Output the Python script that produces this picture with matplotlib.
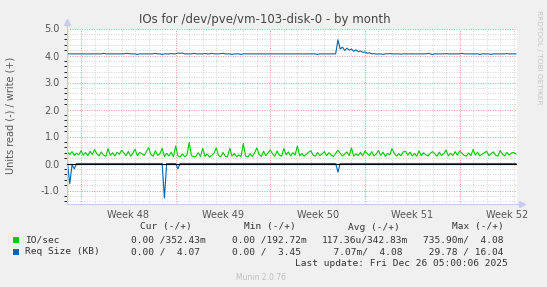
import numpy as np
import matplotlib.pyplot as plt
from matplotlib.ticker import MultipleLocator, FixedLocator
from matplotlib.patches import Rectangle

# one sample every 4 hours, day 0 = Monday Nov 24 (start of week 48)
step_hours = 4
start_day = -1.0

# IO/sec, write (+)
io_write = [
    0.42, 0.33, 0.44, 0.30, 0.38, 0.32,
    0.47, 0.31, 0.41, 0.29, 0.45, 0.33,
    0.52, 0.36, 0.28, 0.43, 0.31, 0.27,
    0.55, 0.30, 0.40, 0.28, 0.42, 0.34,
    0.49, 0.39, 0.29, 0.45, 0.27, 0.38,
    0.53, 0.28, 0.41, 0.36, 0.30, 0.44,
    0.59, 0.33, 0.27, 0.47, 0.30, 0.37,
    0.56, 0.26, 0.38, 0.28, 0.42, 0.25,
    0.65, 0.28, 0.24, 0.36, 0.25, 0.31,
    0.78, 0.29, 0.25, 0.27, 0.40, 0.26,
    0.56, 0.26, 0.35, 0.24, 0.30, 0.38,
    0.58, 0.29, 0.25, 0.41, 0.27, 0.24,
    0.57, 0.27, 0.37, 0.25, 0.32, 0.25,
    0.74, 0.28, 0.24, 0.36, 0.26, 0.39,
    0.58, 0.34, 0.26, 0.45, 0.29, 0.40,
    0.50, 0.36, 0.27, 0.46, 0.31, 0.27,
    0.55, 0.32, 0.43, 0.28, 0.40, 0.31,
    0.65, 0.28, 0.37, 0.27, 0.35, 0.42,
    0.47, 0.31, 0.27, 0.41, 0.29, 0.36,
    0.44, 0.29, 0.40, 0.32, 0.26, 0.38,
    0.49, 0.38, 0.28, 0.35, 0.43, 0.29,
    0.58, 0.27, 0.36, 0.29, 0.41, 0.28,
    0.46, 0.37, 0.29, 0.44, 0.28, 0.35,
    0.48, 0.30, 0.42, 0.27, 0.37, 0.32,
    0.55, 0.38, 0.28, 0.36, 0.29, 0.43,
    0.45, 0.31, 0.42, 0.28, 0.37, 0.27,
    0.47, 0.29, 0.40, 0.32, 0.28, 0.38,
    0.44, 0.36, 0.27, 0.42, 0.30, 0.37,
    0.50, 0.28, 0.38, 0.29, 0.44, 0.31,
    0.46, 0.38, 0.30, 0.27, 0.39, 0.29,
    0.52, 0.31, 0.42, 0.28, 0.35, 0.40,
    0.45, 0.29, 0.37, 0.43, 0.30, 0.27,
    0.48, 0.35, 0.28, 0.41, 0.31, 0.39,
    0.41, 0.35,
]

# Req Size (KB), write (+)
req_write = [
    4.06, 4.06, 4.06, 4.06, 4.06, 4.06,
    4.06, 4.06, 4.06, 4.06, 4.06, 4.06,
    4.06, 4.06, 4.06, 4.06, 4.08, 4.06,
    4.06, 4.06, 4.06, 4.06, 4.06, 4.06,
    4.06, 4.06, 4.08, 4.07, 4.06, 4.06,
    4.06, 4.04, 4.06, 4.06, 4.06, 4.06,
    4.06, 4.06, 4.06, 4.08, 4.06, 4.06,
    4.04, 4.06, 4.06, 4.06, 4.07, 4.06,
    4.06, 4.09, 4.08, 4.09, 4.06, 4.06,
    4.06, 4.06, 4.08, 4.06, 4.06, 4.06,
    4.06, 4.07, 4.06, 4.06, 4.08, 4.06,
    4.06, 4.06, 4.07, 4.08, 4.06, 4.06,
    4.06, 4.04, 4.06, 4.06, 4.06, 4.04,
    4.06, 4.06, 4.06, 4.06, 4.06, 4.06,
    4.06, 4.06, 4.06, 4.06, 4.06, 4.06,
    4.06, 4.06, 4.06, 4.06, 4.06, 4.06,
    4.06, 4.06, 4.06, 4.06, 4.06, 4.06,
    4.06, 4.06, 4.06, 4.06, 4.06, 4.06,
    4.06, 4.06, 4.06, 4.04, 4.06, 4.06,
    4.06, 4.06, 4.06, 4.06, 4.06, 4.06,
    4.58, 4.24, 4.31, 4.19, 4.27, 4.20,
    4.24, 4.16, 4.21, 4.14, 4.17, 4.12,
    4.13, 4.08, 4.10, 4.06, 4.07, 4.05,
    4.06, 4.06, 4.04, 4.06, 4.06, 4.07,
    4.06, 4.06, 4.06, 4.06, 4.05, 4.06,
    4.06, 4.06, 4.06, 4.06, 4.06, 4.06,
    4.06, 4.06, 4.06, 4.06, 4.08, 4.06,
    4.04, 4.06, 4.06, 4.06, 4.06, 4.06,
    4.07, 4.06, 4.06, 4.06, 4.06, 4.06,
    4.06, 4.08, 4.06, 4.06, 4.06, 4.06,
    4.06, 4.06, 4.06, 4.04, 4.06, 4.06,
    4.06, 4.06, 4.04, 4.06, 4.06, 4.06,
    4.06, 4.06, 4.06, 4.07, 4.06, 4.06,
    4.06, 4.06,
]

# read (-) side: zero except a few spikes (sample index -> value)
req_read_spikes = {1: -0.75, 2: -0.05, 3: -0.2, 43: -1.28, 49: -0.2, 120: -0.32}
io_read_level = 0.0

week_labels = ["Week 48", "Week 49", "Week 50", "Week 51", "Week 52"]

legend_rows = [
    ("IO/sec", "#00CC00", ["0.00 /352.43m", "0.00 /192.72m", "117.36u/342.83m", "735.90m/  4.08"]),
    ("Req Size (KB)", "#0066B3", ["0.00 /  4.07", "0.00 /  3.45", "  7.07m/  4.08", " 29.78 / 16.04"]),
]
legend_headers = ["Cur (-/+)", "Min (-/+)", "Avg (-/+)", "Max (-/+)"]

n = len(io_write)
t = start_day + np.arange(n) * step_hours / 24.0
req_read = np.zeros(n)
for i, v in req_read_spikes.items():
    req_read[i] = v
io_read = np.full(n, io_read_level)

W, H = 547, 287
fig = plt.figure(figsize=(W / 100, H / 100), dpi=100, facecolor="#F0F0F0")


def fx(x):
    return x / W


def fy(y):
    return 1 - y / H


left, right, top, bottom = 66.7, 516.5, 28.5, 204
ax = fig.add_axes([fx(left), fy(bottom), (right - left) / W, (bottom - top) / H])
ax.set_facecolor("white")

x_end = 32 + 5 / 24
ax.set_xlim(-1.06, x_end)
ax.set_ylim(-1.5, 5.0)

# grid
dot = (0, (1, 1.5))
ax.yaxis.set_major_locator(MultipleLocator(1))
ax.yaxis.set_minor_locator(MultipleLocator(0.2))
ax.grid(which="minor", axis="y", color="#d4d4d4", linestyle=dot, linewidth=0.7)
ax.grid(which="major", axis="y", color="#f09090", linestyle=dot, linewidth=0.7)
for d in range(-1, 33):
    ax.axvline(d, color="#f09090" if d % 7 == 0 else "#d4d4d4", linestyle=dot, linewidth=0.7, zorder=0.5)

ax.xaxis.set_major_locator(FixedLocator([3.5, 10.5, 17.5, 24.5, 31.5]))
ax.set_xticklabels(week_labels)
ax.set_yticklabels([f"{v:.1f}" for v in ax.get_yticks()])
ax.tick_params(length=0, labelsize=7, labelcolor="#555555")
ax.tick_params(axis="x", pad=4)
ax.tick_params(axis="y", pad=5)

# series
ax.plot(t, io_read, color="#00CC00", linewidth=0.8)
ax.plot(t, io_write, color="#00CC00", linewidth=0.8)
ax.plot(t, req_read, color="#0066B3", linewidth=0.8)
ax.plot(t, req_write, color="#0066B3", linewidth=0.8)
ax.axhline(0, color="black", linewidth=0.8, zorder=3)

for s in ["top", "right"]:
    ax.spines[s].set_visible(False)
for s in ["left", "bottom"]:
    ax.spines[s].set_color("#c8ccf0")
    ax.spines[s].set_linewidth(0.8)
ax.spines["bottom"].set_bounds(-1.06, x_end + 0.4)
ax.spines["left"].set_bounds(-1.5, 5.25)
ax.plot([x_end + 0.4], [-1.5], marker=">", color="#c8ccf0", markersize=4, clip_on=False)
ax.plot([-1.06], [5.25], marker="^", color="#c8ccf0", markersize=4, clip_on=False)

# texts
fig.text(fx(264.5), fy(19), "IOs for /dev/pve/vm-103-disk-0 - by month",
         ha="center", va="center", fontsize=8.5, color="#444444")
fig.text(fx(11), fy(115), "Units read (-) / write (+)", rotation=90,
         ha="center", va="center", fontsize=7, color="#555555")
fig.text(fx(539), fy(57), "RRDTOOL / TOBI OETIKER", rotation=270,
         ha="center", va="center", fontsize=5.3, color="#c4c4c4")

mono = dict(family="DejaVu Sans Mono", fontsize=6.8, color="#333333", va="center")
col_x = [131, 232, 322, 423]
head_x = [140, 244, 348, 452]
for hx, h in zip(head_x, legend_headers):
    fig.text(fx(hx), fy(227), h, ha="left", **mono)
for k, (name, color, cells) in enumerate(legend_rows):
    y = 240 + k * 12
    fig.patches.append(Rectangle((fx(13), fy(y + 3)), 6 / W, 6 / H, transform=fig.transFigure,
                                 facecolor=color, edgecolor="none"))
    fig.text(fx(25), fy(y), name, ha="left", **mono)
    for cx, c in zip(col_x, cells):
        fig.text(fx(cx), fy(y), c, ha="left", **mono)
fig.text(fx(508), fy(264), "Last update: Fri Dec 26 05:00:06 2025", ha="right", **mono)
fig.text(fx(261), fy(277), "Munin 2.0.76", ha="center", va="center", fontsize=5.5, color="#c0c0c0")

fig.savefig("out.png", dpi=100, facecolor=fig.get_facecolor())
